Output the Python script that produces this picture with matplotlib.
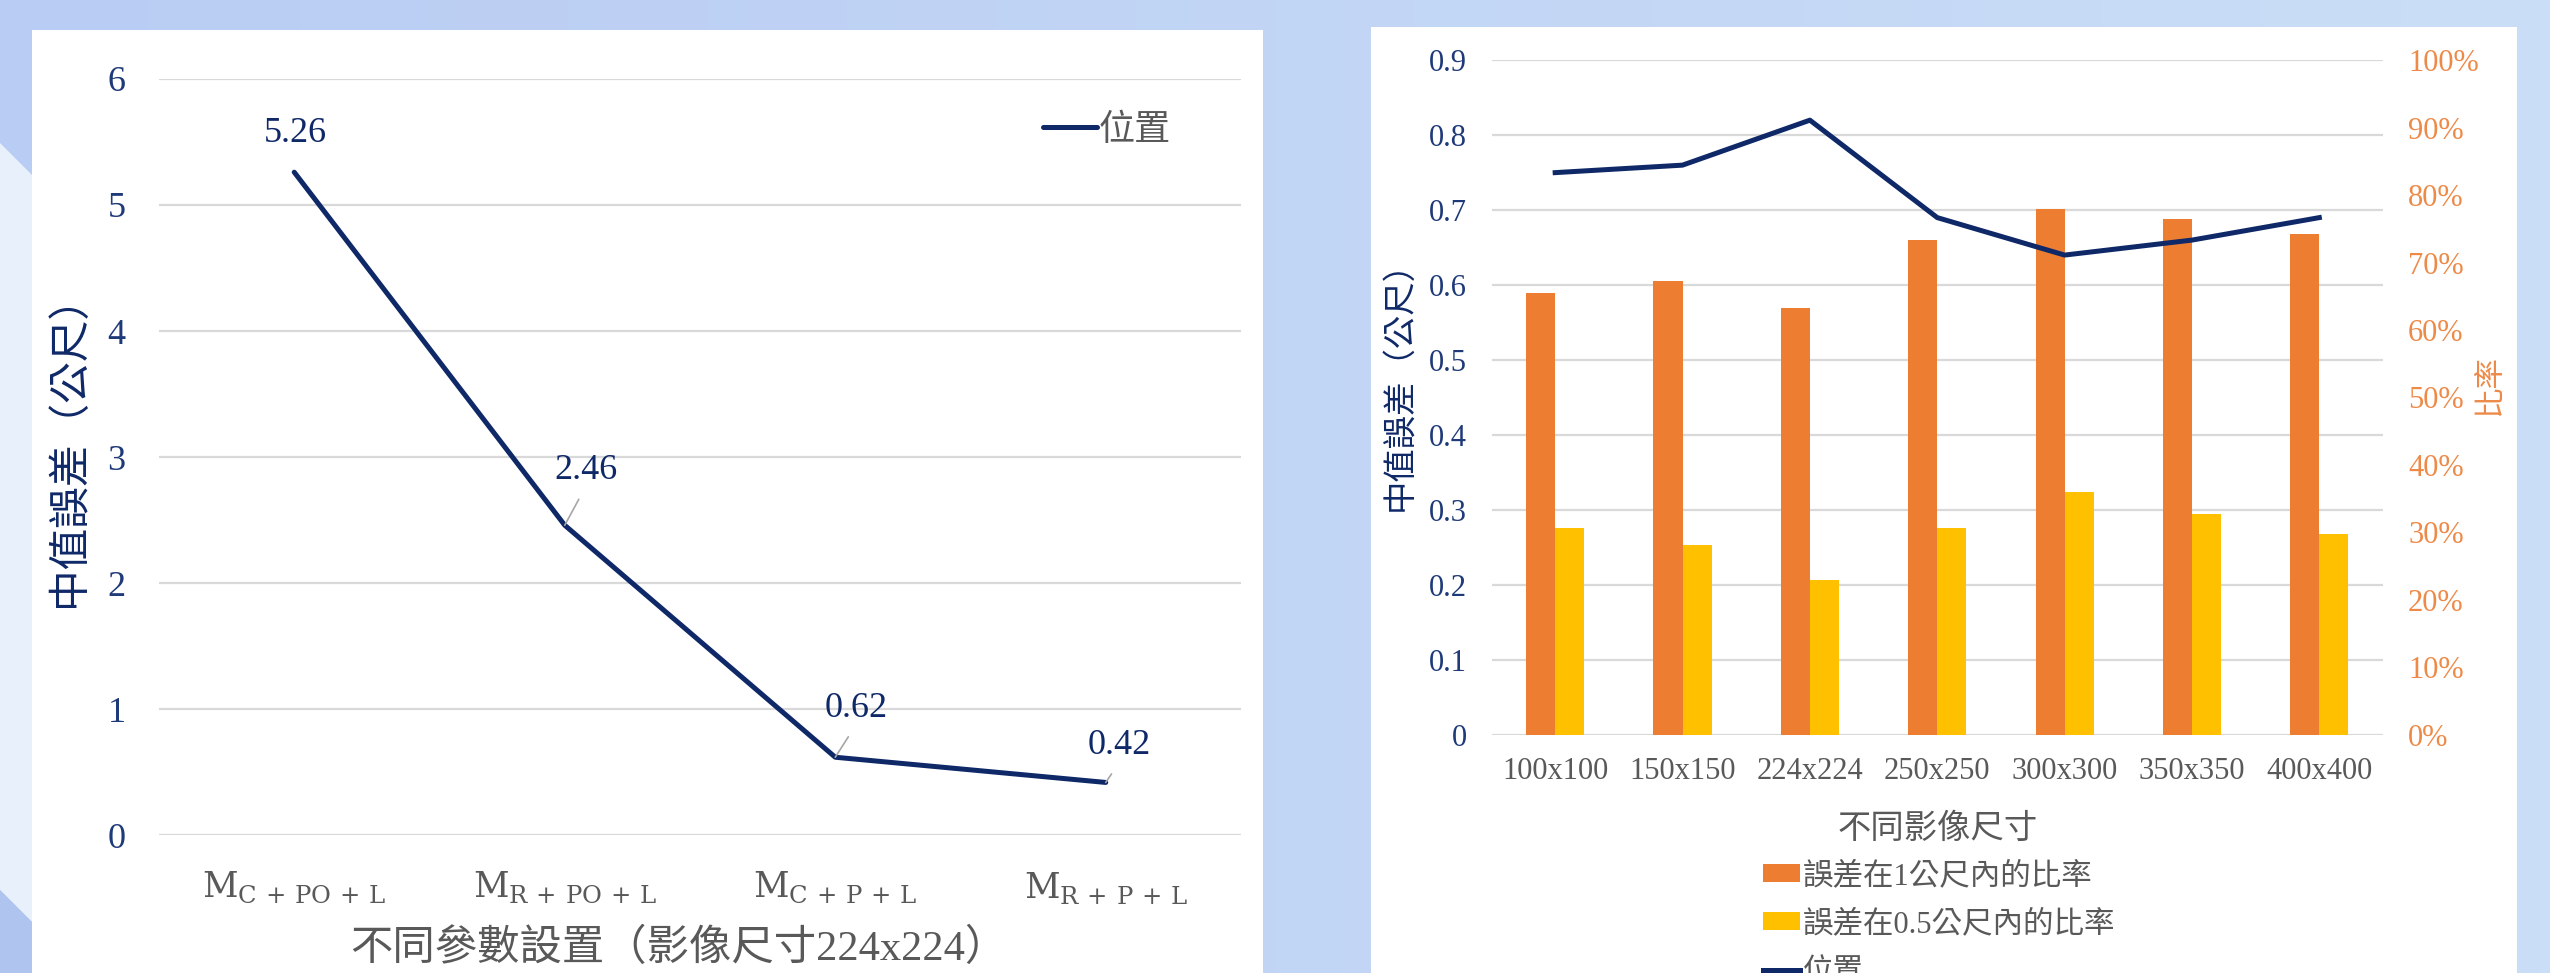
import matplotlib.pyplot as plt
import numpy as np
from matplotlib.patches import Rectangle, Polygon

plt.rcParams['font.family'] = ['Liberation Serif', 'Noto Sans CJK TC']
plt.rcParams['mathtext.fontset'] = 'custom'
plt.rcParams['mathtext.rm'] = 'DejaVu Serif'

# left chart: median error for each parameter setting (image size 224x224)
configs = [r'$\mathrm{M}_{\mathrm{C\,+\,PO\,+\,L}}$', r'$\mathrm{M}_{\mathrm{R\,+\,PO\,+\,L}}$',
           r'$\mathrm{M}_{\mathrm{C\,+\,P\,+\,L}}$', r'$\mathrm{M}_{\mathrm{R\,+\,P\,+\,L}}$']
config_err = [5.26, 2.46, 0.62, 0.42]

# right chart: image size vs. median error / hit rates
sizes = ['100x100', '150x150', '224x224', '250x250', '300x300', '350x350', '400x400']
size_err = [0.75, 0.76, 0.82, 0.69, 0.64, 0.66, 0.69]
rate_1m = [65.5, 67.2, 63.3, 73.3, 77.9, 76.5, 74.2]
rate_05m = [30.6, 28.1, 23.0, 30.6, 36.0, 32.8, 29.8]

W, H = 2550, 973
NAVY = '#0f2867'
TICK_NAVY = '#1f3a78'
GRAY = '#595959'
GRID = '#d9d9d9'
ORANGE = '#ED7D31'
YELLOW = '#FFC000'
ORANGE_TXT = '#EE8A48'


def px(x, y):
    # pixel (from top-left) -> figure fraction
    return x / W, 1 - y / H


fig = plt.figure(figsize=(W / 100, H / 100), dpi=100)

# background
bg = fig.add_axes([0, 0, 1, 1], zorder=-10)
grad = np.linspace(0, 1, 256).reshape(1, -1)
c0 = np.array([0xb9, 0xcc, 0xf3]) / 255
c1 = np.array([0xca, 0xde, 0xf7]) / 255
img = c0[None, None, :] * (1 - grad[..., None]) + c1[None, None, :] * grad[..., None]
bg.imshow(img, extent=[0, 1, 0, 1], aspect='auto')
bg.add_patch(Polygon([px(0, 143), px(60, 203), px(60, 950), px(0, 890)], closed=True,
                     facecolor='#e8f0fc', edgecolor='none'))
bg.add_patch(Polygon([px(0, 890), px(60, 950), px(60, 973), px(0, 973)], closed=True,
                     facecolor='#b0c4f0', edgecolor='none'))
x0, y0 = px(32, 973)
bg.add_patch(Rectangle((x0, y0), (1263 - 32) / W, (973 - 30) / H, facecolor='white', edgecolor='none'))
x0, y0 = px(1371, 973)
bg.add_patch(Rectangle((x0, y0), (2517 - 1371) / W, (973 - 27) / H, facecolor='white', edgecolor='none'))
bg.set_xlim(0, 1)
bg.set_ylim(0, 1)
bg.axis('off')

# ---- left chart ----
ax = fig.add_axes([159 / W, (H - 835.4) / H, (1241 - 159) / W, (835.4 - 78.9) / H])
ax.patch.set_visible(False)
xs = np.arange(len(configs))
ax.plot(xs, config_err, color=NAVY, lw=3.6, solid_capstyle='round', label='位置', zorder=3)
ax.set_xlim(-0.5, len(configs) - 0.5)
ax.set_ylim(0, 6)
ax.set_yticks(range(7))
ax.set_xticks(xs)
ax.set_xticklabels(configs)
ax.grid(axis='y', color=GRID, lw=1.6)
ax.set_axisbelow(True)
for s in ax.spines.values():
    s.set_visible(False)
ax.tick_params(axis='y', length=0, pad=24, labelsize=26, labelcolor=TICK_NAVY)
ax.tick_params(axis='x', length=0, pad=25, labelsize=25, labelcolor=GRAY)
ax.set_ylabel('中值誤差（公尺）', fontsize=30, color=NAVY)
ax.yaxis.set_label_coords(-0.082, 0.522)
ax.yaxis.label.set_va('center')
ax.set_xlabel('不同參數設置（影像尺寸224x224）', fontsize=30.5, color=GRAY, labelpad=16)
ax.xaxis.label.set_x(0.48)

# label offsets (points) of the text centre from each point
offsets = [(0.7, 28), (15, 39.6), (15, 35.3), (10, 26.6)]
for i, (v, off) in enumerate(zip(config_err, offsets)):
    arrow = None if i == 0 else dict(arrowstyle='-', color='#a6a6a6', lw=1.2,
                                     shrinkA=8, shrinkB=0, relpos=(0.5, 0))
    ax.annotate(f'{v:.2f}', (xs[i], v), xytext=off, textcoords='offset points',
                ha='center', va='center', fontsize=26, color=NAVY, arrowprops=arrow)

ax.legend(loc='center left', bbox_to_anchor=(0.817, 0.931), frameon=False, fontsize=26,
          handlelength=1.5, handletextpad=0.05, borderpad=0, borderaxespad=0, labelcolor=GRAY)

# ---- right chart ----
rx = fig.add_axes([1491.5 / W, (H - 734.8) / H, (2383 - 1491.5) / W, (734.8 - 60.2) / H])
rx2 = rx.twinx()
rx.set_zorder(rx2.get_zorder() + 1)
rx.patch.set_visible(False)

pos = np.arange(len(sizes))
bw = 0.228
b1 = rx2.bar(pos - bw / 2, rate_1m, width=bw, color=ORANGE, label='誤差在1公尺內的比率', zorder=2)
b2 = rx2.bar(pos + bw / 2, rate_05m, width=bw, color=YELLOW, label='誤差在0.5公尺內的比率', zorder=2)
left_ticks = np.round(np.arange(0, 0.91, 0.1), 1)
rx2.hlines(left_ticks, 0, 1, transform=rx.get_yaxis_transform(), colors=GRID, lw=1.6, zorder=0)
ln, = rx.plot(pos, size_err, color=NAVY, lw=3.6, label='位置', zorder=3)

rx.set_xlim(-0.5, len(sizes) - 0.5)
rx.set_ylim(0, 0.9)
rx.set_yticks(left_ticks)
rx.set_yticklabels(['0'] + [f'{t:.1f}' for t in left_ticks[1:]])
rx2.set_ylim(0, 100)
rx2.set_yticks(range(0, 101, 10))
rx2.set_yticklabels([f'{t}%' for t in range(0, 101, 10)])
rx.set_xticks(pos)
rx.set_xticklabels(sizes)
for a in (rx, rx2):
    for s in a.spines.values():
        s.set_visible(False)
rx.tick_params(axis='y', length=0, pad=18, labelsize=22, labelcolor=TICK_NAVY)
rx2.tick_params(axis='y', length=0, pad=18, labelsize=22, labelcolor=ORANGE_TXT)
rx.tick_params(axis='x', length=0, pad=16, labelsize=22, labelcolor=GRAY)
rx.set_ylabel('中值誤差（公尺）', fontsize=24, color=NAVY)
rx.yaxis.set_label_coords(-0.103, 0.53)
rx.yaxis.label.set_va('center')
rx2.set_ylabel('比率', fontsize=22, color=ORANGE_TXT, rotation=90)
rx2.yaxis.set_label_coords(1.12, 0.52)
rx2.yaxis.label.set_va('center')
rx.set_xlabel('不同影像尺寸', fontsize=24, color=GRAY, labelpad=20)

fig.legend(handles=[b1, b2, ln], loc='upper left', bbox_to_anchor=px(1763, 862),
           frameon=False, fontsize=22, handlelength=1.2, handleheight=0.5,
           handletextpad=0.1, labelspacing=0.62, borderpad=0, borderaxespad=0,
           labelcolor=GRAY)

fig.savefig('out.png', dpi=100)
